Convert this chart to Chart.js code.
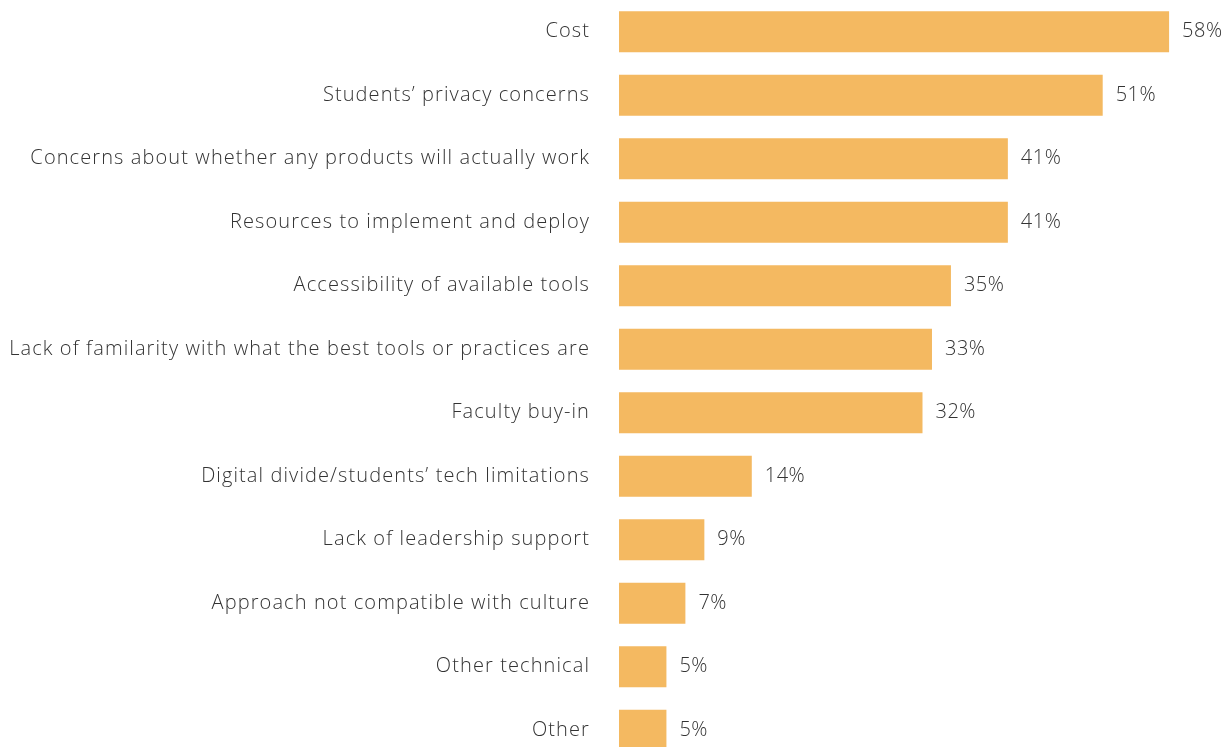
<!DOCTYPE html>
<html>
<head>
<meta charset="utf-8">
<script src="https://cdn.jsdelivr.net/npm/chart.js@4"></script>
<style>
html,body{margin:0;padding:0;background:#fff;overflow:hidden;}
#wrap{position:relative;width:1231px;height:762px;}
</style>
</head>
<body>
<div id="wrap"><canvas id="c"></canvas></div>
<script>
const categories = [
  "Cost",
  "Students’ privacy concerns",
  "Concerns about whether any products will actually work",
  "Resources to implement and deploy",
  "Accessibility of available tools",
  "Lack of familarity with what the best tools or practices are",
  "Faculty buy-in",
  "Digital divide/students’ tech limitations",
  "Lack of leadership support",
  "Approach not compatible with culture",
  "Other technical",
  "Other"
];
const values = [58, 51, 41, 41, 35, 33, 32, 14, 9, 7, 5, 5];
const valueLabels = ["58%", "51%", "41%", "41%", "35%", "33%", "32%", "14%", "9%", "7%", "5%", "5%"];

const FONT = "'Open Sans'";
const TEXT = "#333333";
const SPACING = "1.1px";

const letterSpacingPlugin = {
  id: 'letterSpacing',
  beforeUpdate(chart) { chart.ctx.letterSpacing = SPACING; },
  beforeDraw(chart) { chart.ctx.letterSpacing = SPACING; }
};

const valueLabelPlugin = {
  id: 'valueLabels',
  afterDatasetsDraw(chart) {
    const ctx = chart.ctx;
    const meta = chart.getDatasetMeta(0);
    ctx.save();
    ctx.letterSpacing = "0.5px";
    ctx.font = "300 20px " + FONT;
    ctx.fillStyle = TEXT;
    ctx.textAlign = "left";
    ctx.textBaseline = "middle";
    meta.data.forEach((bar, i) => {
      ctx.fillText(valueLabels[i], bar.x + 13, bar.y);
    });
    ctx.restore();
  }
};

new Chart(document.getElementById('c'), {
  type: 'bar',
  data: {
    labels: categories,
    datasets: [{
      data: values,
      backgroundColor: '#F4B961',
      borderWidth: 0,
      barPercentage: 0.645,
      categoryPercentage: 1.0
    }]
  },
  options: {
    indexAxis: 'y',
    responsive: true,
    maintainAspectRatio: false,
    animation: false,
    layout: { padding: { top: 0, bottom: 0, left: 0, right: 5 } },
    plugins: { legend: { display: false }, tooltip: { enabled: false } },
    scales: {
      x: {
        display: false,
        min: 0,
        max: 64
      },
      y: {
        grid: { display: false, drawTicks: false },
        border: { display: false },
        ticks: {
          padding: 29,
          color: TEXT,
          font: { family: "Open Sans", size: 20, weight: '300' }
        },
        afterFit(scale) {
          scale.width = 619;
          scale.paddingTop = 0;
          scale.paddingBottom = 0;
        }
      }
    }
  },
  plugins: [letterSpacingPlugin, valueLabelPlugin]
});
</script>
</body>
</html>
